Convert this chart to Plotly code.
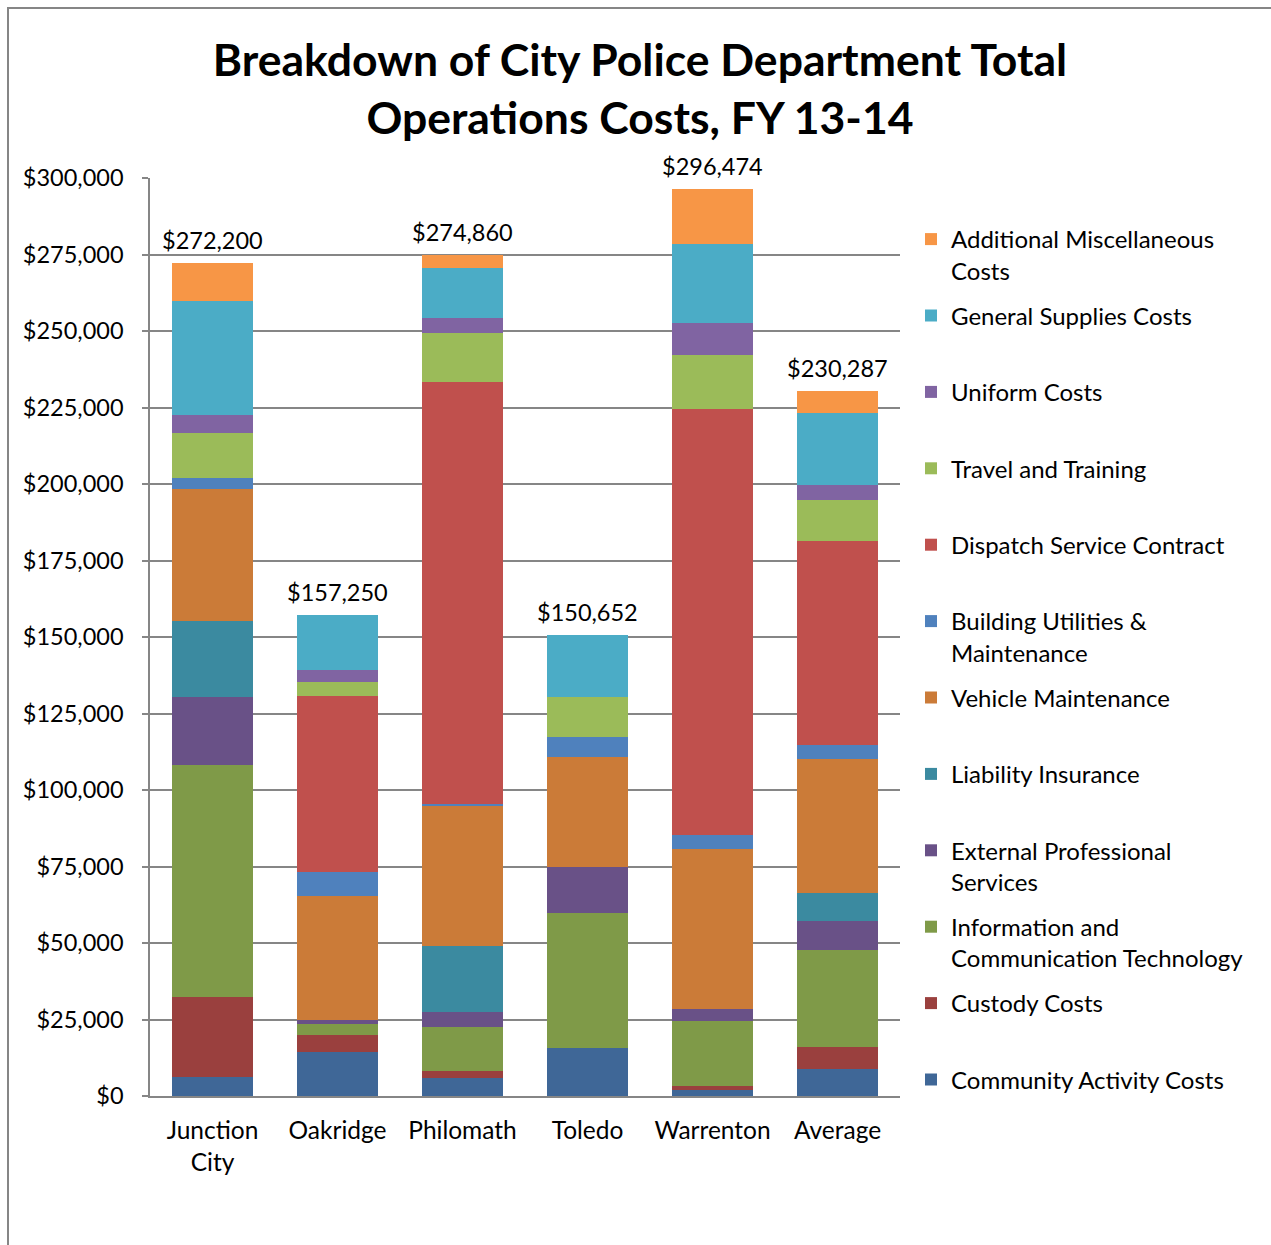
import plotly.graph_objects as go

# Cities compared, plus the five-city average
categories = ["Junction<br>City", "Oakridge", "Philomath", "Toledo", "Warrenton", "Average"]

# Cost components, listed from the bottom of each stack to the top
community_activity = [6300, 14430, 5870, 15740, 2000, 8900]
custody = [25950, 5550, 2210, 0, 1430, 7030]
info_comm_tech = [76050, 3480, 14500, 44060, 20980, 31840]
external_professional = [22210, 1300, 4960, 14910, 3960, 9420]
liability_insurance = [24780, 0, 21480, 0, 0, 9240]
vehicle_maintenance = [43130, 40700, 46070, 36010, 52440, 43630]
building_utilities = [3670, 7830, 300, 6640, 4550, 4570]
dispatch_contract = [0, 57340, 137910, 0, 139250, 66890]
travel_training = [14500, 4790, 15970, 13060, 17680, 13240]
uniform = [6060, 3700, 4960, 0, 10290, 5000]
general_supplies = [37080, 18130, 16330, 20232, 25790, 23480]
additional_misc = [12470, 0, 4300, 0, 18104, 7047]

series = [
    ("Community Activity Costs", community_activity, "#3F6797"),
    ("Custody Costs", custody, "#9A403E"),
    ("Information and<br>Communication Technology", info_comm_tech, "#7F9A48"),
    ("External Professional<br>Services", external_professional, "#695187"),
    ("Liability Insurance", liability_insurance, "#3B8AA0"),
    ("Vehicle Maintenance", vehicle_maintenance, "#CB7B38"),
    ("Building Utilities &<br>Maintenance", building_utilities, "#4F81BD"),
    ("Dispatch Service Contract", dispatch_contract, "#C0504D"),
    ("Travel and Training", travel_training, "#9BBB59"),
    ("Uniform Costs", uniform, "#8064A2"),
    ("General Supplies Costs", general_supplies, "#4BACC6"),
    ("Additional Miscellaneous<br>Costs", additional_misc, "#F79646"),
]

GRID = "#868686"
FONT = "Lato, 'Open Sans', sans-serif"

fig = go.Figure()
for i, (name, values, color) in enumerate(series):
    # every legend entry takes two lines so the entries sit at an even pitch
    label = name if "<br>" in name else name + "<br>&nbsp;"
    fig.add_trace(go.Bar(
        x=categories, y=values, name=label,
        marker=dict(color=color, line=dict(width=0)),
        legendgroup=name, legendrank=len(series) - i,
    ))

# Stack totals shown above each column
totals = [sum(vals[i] for _, vals, _ in series) for i in range(len(categories))]
for cat, total in zip(categories, totals):
    fig.add_annotation(
        x=cat, y=total, text=f"${total:,}", showarrow=False,
        yanchor="bottom", yshift=7, font=dict(size=23.5, family=FONT, color="black"),
    )

# Outer chart frame
fig.add_shape(
    type="rect", xref="paper", yref="paper",
    x0=(8 - 150) / 750, x1=(1300 - 150) / 750,
    y0=(1096 - 1300) / 918, y1=(1096 - 8) / 918,
    line=dict(color=GRID, width=2), fillcolor="rgba(0,0,0,0)", layer="below",
)

fig.update_layout(
    width=1271, height=1245,
    margin=dict(l=150, r=371, t=178, b=149, autoexpand=False),
    paper_bgcolor="white", plot_bgcolor="white",
    barmode="stack", bargap=0.352,
    font=dict(family=FONT, size=22, color="black"),
    title=dict(
        text="<b>Breakdown of City Police Department Total<br>Operations Costs, FY 13-14</b>",
        x=640 / 1271, xanchor="center", y=1 - 76 / 1245, yanchor="middle",
        font=dict(size=44.5, family=FONT, color="black"),
    ),
    legend=dict(
        x=(911 - 150) / 750, xanchor="left",
        y=(1096 - 217) / 918, yanchor="top",
        traceorder="grouped", valign="top",
        tracegroupgap=11, font=dict(size=24, family=FONT),
        bgcolor="rgba(0,0,0,0)",
    ),
    showlegend=True,
)

fig.update_yaxes(
    range=[0, 300000], tickvals=list(range(0, 300001, 25000)), tickformat="$,.0f",
    showgrid=True, gridcolor=GRID, gridwidth=1.5, zeroline=False,
    showline=True, linecolor=GRID, linewidth=1.5,
    ticks="outside", ticklen=6, tickcolor=GRID, tickwidth=1.5,
    ticklabelstandoff=14, tickfont=dict(size=23.5, family=FONT),
)
fig.update_xaxes(
    showline=True, linecolor=GRID, linewidth=1.5, ticks="",
    ticklabelstandoff=12, tickfont=dict(size=24.5, family=FONT),
)

fig.write_html("out.html")
